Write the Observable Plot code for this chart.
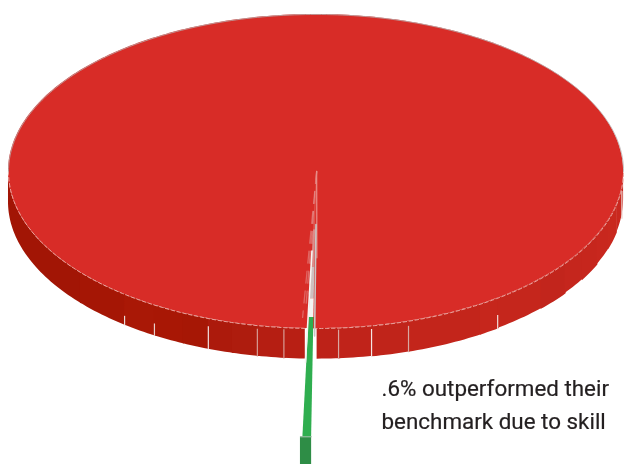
<!DOCTYPE html>
<html>
<head>
<meta charset="utf-8">
<script src="https://cdn.jsdelivr.net/npm/d3@7"></script>
<script src="https://cdn.jsdelivr.net/npm/@observablehq/plot@0.6"></script>
<style>
html,body{margin:0;padding:0;background:#fff;overflow:hidden}
svg{display:block;filter:blur(0.5px)}
</style>
</head>
<body>
<script>
// Side-wall panels of the tilted pie: start angle (degrees from front, + = right)
const sideStart = [-90,-50,-38.5,-31.7,-25.7,-20.5,-15.8,-11,-6,0.2,4.2,10.4,17.5,32.3,36.2,47,54,60,66,72,78,84];
const sideEnd   = [-50,-38.5,-31.7,-25.7,-20.5,-15.8,-11,-6,-2,4.2,10.4,17.5,32.3,36.2,47,54,60,66,72,78,84,90];
const sideColor = ["#a21505","#a51605","#a91806","#a81705","#a61705","#ac1a0c","#ae1c0e","#b51e12","#b81f14","#bd2218","#c0231a","#c0241a","#c3251b","#c6261c","#c5261c","#c2251c","#c5261d","#c6261d","#c8271e","#c9281e","#c9281f","#c9281f"];
const sideDepth = [0.195,0.195,0.195,0.195,0.195,0.195,0.195,0.195,0.195,0.195,0.195,0.197,0.197,0.197,0.193,0.197,0.19,0.195,0.187,0.19,0.18,0.175];
// Light seams on the wall: angle and how far up the wall they reach (share of depth)
const seamAngle = [-38.5,-31.7,-20.5,-11,-6,4.2,10.4,17.5,36.2,84];
const seamReach = [0.3,0.4,0.75,0.9,0.95,0.95,0.9,0.85,0.45,0.9];
const seamColor = ["#eadcd8","#e8d0cc","#efe2df","#d69d96","#d69d96","#d9a8a2","#f4e6e4","#d8a8a2","#f2dcd8","#e8c8c4"];
// The pulled-out slice (0.6%)
const shares = [99.4, 0.6];
const sliceLeft = -1.4, sliceRight = -0.44, sliceRadius = 1.69;
const fadeFrom = [0,0.22,0.36,0.48,0.55];
const fadeTo   = [0.22,0.36,0.48,0.55,1];
const fadeFill = ["#e2524c","#dd8d8a","#cfc0bf","#f4f4f2","#2fae4f"];
// Pale edges along the slice: angle, start and end along its length, colour
const edgeAngle = [-1.6,-0.25];
const edgeFrom = [0.3,0.2];
const edgeTo = [0.72,0.62];
const edgeColor = ["#f6f4f2","#c9c6c5"];
// Faint streaks across the disc from the centre
const streakAngle = [-2.7,-2.2,-1.7,0.2];
const streakReach = [0.93,0.85,0.78,0.55];
const textLines = [".6% outperformed their","benchmark due to skill"];
const textX = [0.213,0.213];
const textY = [-1.43,-1.643];

const sin = d => Math.sin(d*Math.PI/180), cos = d => Math.cos(d*Math.PI/180);
const pointAt = a => ({a,x:sin(a),y:-cos(a)});
const lower = d3.range(-90,91,1).map(pointAt);
const upper = d3.range(90,271,1).map(pointAt);

const panels = sideStart.flatMap((s,i) => {
  const e = Math.min(90, sideEnd[i] + (sideEnd[i] === -2 ? 0 : 0.4)), n = Math.ceil(e-s)+1;
  return d3.range(n).map(k => { const a = s+(e-s)*k/(n-1);
    return {i,x:sin(a),y1:-cos(a),y2:-cos(a)-sideDepth[i],fill:sideColor[i]}; });
});
const seams = seamAngle.map((a,i)=>({x:sin(a),y1:-cos(a)-0.195*(1-seamReach[i]),y2:-cos(a)-0.197,c:seamColor[i]}));

const wedgeAt = (t,a) => ({x:0.002+(sin(a)-0.002)*sliceRadius*t,y:-sliceRadius*t*cos(a)});
const wedge = fadeFrom.flatMap((f,i)=>[f,fadeTo[i]].map(t=>{
  const l=wedgeAt(t,sliceLeft), r=wedgeAt(t,sliceRight);
  return {i,x1:l.x,x2:r.x,y:l.y,fill:fadeFill[i]};
}));
const outerL = wedgeAt(1,sliceLeft), outerR = wedgeAt(1,sliceRight);
const wallData = [{x1:outerL.x-0.008,x2:outerR.x,y1:outerL.y,y2:outerL.y-0.19}];
const streaks = streakAngle.flatMap((a,i)=>[0,streakReach[i]].map(t=>({i,x:0.002+(sin(a)-0.002)*t,y:-t*cos(a)})));
const edges = edgeAngle.flatMap((a,i)=>[edgeFrom[i],edgeTo[i]].map(t=>({...wedgeAt(t,a),i,c:edgeColor[i]})));

const chart = Plot.plot({
  width:624,height:464,margin:0,
  x:{domain:[-1.026,1.003],axis:null},
  y:{domain:[-1.866,1.089],axis:null},
  marks:[
    Plot.areaY(panels,{x:"x",y1:"y1",y2:"y2",z:"i",fill:d=>d.fill}),
    Plot.link(seams,{x1:"x",x2:"x",y1:"y1",y2:"y2",stroke:"c",strokeWidth:1.2}),
    Plot.areaY(lower,{x:"x",y1:"y",y2:d=>-d.y,fill:"#d82c27"}),
    Plot.line(lower,{x:"x",y:"y",stroke:"#e9a29d",strokeWidth:1,strokeDasharray:"3.5,2.5"}),
    Plot.line(upper,{x:"x",y:"y",stroke:"#b8aeae",strokeWidth:0.8}),
    Plot.line(streaks,{filter:d=>d.i<3,x:"x",y:"y",z:"i",stroke:"#e8b0ac",strokeWidth:1.3,strokeOpacity:0.45,strokeDasharray:"12,8"}),
    Plot.line(streaks,{filter:d=>d.i===3,x:"x",y:"y",stroke:"#e88f8a",strokeWidth:1.2}),
    Plot.rect(wallData,{x1:"x1",x2:"x2",y1:"y1",y2:"y2",fill:"#2e8d46",clip:true}),
    Plot.line(wallData.flatMap(d=>[{x:d.x1,y:d.y1},{x:d.x2,y:d.y1}]),{x:"x",y:"y",stroke:"#b7c8bb",strokeWidth:1}),
    Plot.areaX(wedge,{x1:"x1",x2:"x2",y:"y",z:"i",fill:d=>d.fill}),
    Plot.line(edges,{x:"x",y:"y",z:"i",stroke:"c",strokeWidth:1.6}),
    Plot.text(textLines,{x:(d,i)=>textX[i],y:(d,i)=>textY[i],text:d=>d,textAnchor:"start",lineAnchor:"bottom",fontSize:22.4,fontFamily:"Roboto, 'Liberation Sans', sans-serif",fill:"#231f20",stroke:"#231f20",strokeWidth:0.2})
  ]
});
document.body.appendChild(chart);
</script>
</body>
</html>
